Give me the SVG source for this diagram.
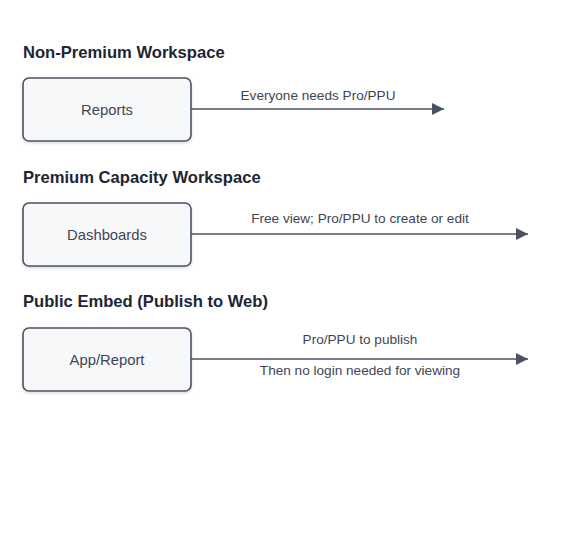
<svg xmlns="http://www.w3.org/2000/svg" width="572" height="550" viewBox="0 0 572 550">
<defs>
<marker id="arr" markerWidth="12" markerHeight="12" refX="12" refY="6" orient="auto" markerUnits="userSpaceOnUse">
<path d="M0,0 L12,6 L0,12 Z" fill="#4a5262"/>
</marker>
<filter id="sh" x="-10%" y="-10%" width="120%" height="130%">
<feDropShadow dx="0" dy="1.5" stdDeviation="1.5" flood-color="#000" flood-opacity="0.15"/>
</filter>
<style>
.title{font-family:"Liberation Sans",Arial,sans-serif;font-size:16.6px;font-weight:bold;fill:#1e2533}
.box{fill:#f7f8fa;stroke:#4a5262;stroke-width:1.6}
.nt{font-family:"Liberation Sans",Arial,sans-serif;font-size:14.8px;fill:#3f4654;text-anchor:middle}
.lt{font-family:"Liberation Sans",Arial,sans-serif;font-size:13.6px;fill:#3f4654;text-anchor:middle}
.edge{stroke:#4a5262;stroke-width:1.6;fill:none}
</style>
</defs>
<rect width="572" height="550" fill="#fff"/>
<text class="title" x="23" y="57.5">Non-Premium Workspace</text>
<text class="title" x="23" y="182.5">Premium Capacity Workspace</text>
<text class="title" x="23" y="307">Public Embed (Publish to Web)</text>
<g id="node-reports">
<rect class="box" x="23" y="78" width="168" height="63" rx="6" filter="url(#sh)"/>
<text class="nt" x="107" y="115">Reports</text>
</g>
<g id="node-dashboards">
<rect class="box" x="23" y="203" width="168" height="63" rx="6" filter="url(#sh)"/>
<text class="nt" x="107" y="240">Dashboards</text>
</g>
<g id="node-app">
<rect class="box" x="23" y="328" width="168" height="63" rx="6" filter="url(#sh)"/>
<text class="nt" x="107" y="365">App/Report</text>
</g>
<g id="connectors">
<line class="edge" x1="191" y1="109" x2="444" y2="109" marker-end="url(#arr)"/>
<text class="lt" x="318" y="100">Everyone needs Pro/PPU</text>
<line class="edge" x1="191" y1="234" x2="528" y2="234" marker-end="url(#arr)"/>
<text class="lt" x="360" y="223">Free view; Pro/PPU to create or edit</text>
<line class="edge" x1="191" y1="359" x2="528" y2="359" marker-end="url(#arr)"/>
<text class="lt" x="360" y="344">Pro/PPU to publish</text>
<text class="lt" x="360" y="375">Then no login needed for viewing</text>
</g>
</svg>
